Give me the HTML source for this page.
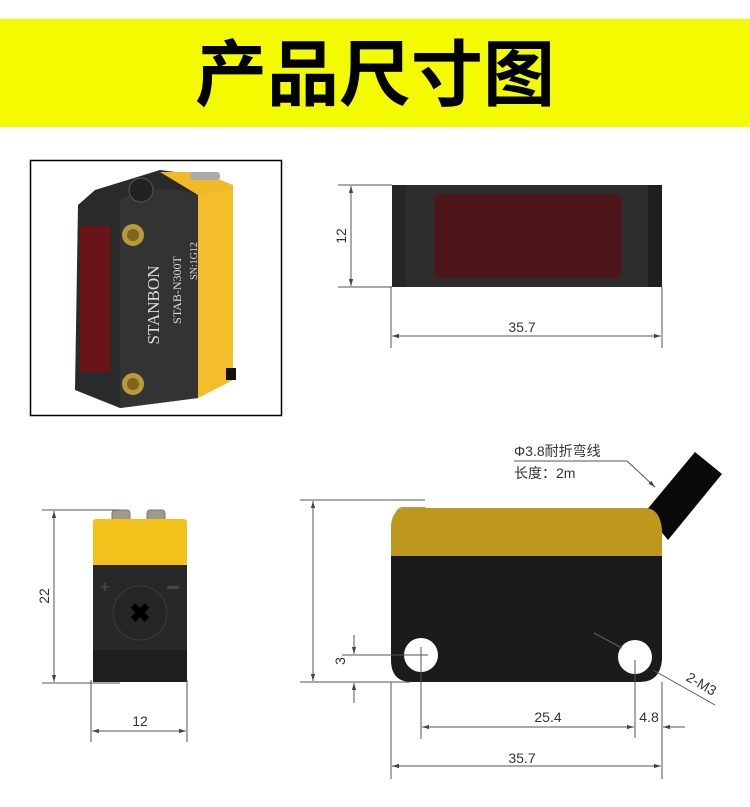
<!DOCTYPE html>
<html><head><meta charset="utf-8"><style>
html,body{margin:0;padding:0;background:#fff;}
svg{display:block;}
text{font-family:"Liberation Sans","Noto Sans CJK SC",sans-serif;}
</style></head><body>
<svg width="750" height="807" viewBox="0 0 750 807" xmlns="http://www.w3.org/2000/svg">
<defs>
<marker id="a" viewBox="0 0 10 10" refX="10" refY="5" markerWidth="7" markerHeight="7" orient="auto-start-reverse"><path d="M0,2 L10,5 L0,8 z" fill="#444"/></marker>
</defs>
<rect x="0" y="19" width="750" height="108" fill="#f4fb00"/>
<text x="375" y="100" text-anchor="middle" font-size="72" font-weight="bold" style="font-family:'Noto Sans CJK SC',sans-serif" fill="#000">产品尺寸图</text>

<!-- photo -->
<rect x="30.5" y="160.5" width="251" height="255" fill="#fff" stroke="#000" stroke-width="1.5"/>
<path d="M198,175 L160,170 L95,190 L78,205 L75,390 L120,408 L198,398 Z" fill="#2a2a2a"/>
<path d="M120,200 Q150,180 198,195 L198,398 L120,408 Z" fill="#333"/>
<path d="M160,172 L200,172 L233,185 L233,380 L198,398 L198,195 Z" fill="#f2b928"/>
<path d="M198,195 L233,190 L233,380 L198,398 Z" fill="#f4be2a"/>
<rect x="80" y="226" width="30" height="146" fill="#6a1418"/>
<circle cx="133" cy="235" r="11" fill="#b79a3a"/><circle cx="133" cy="235" r="6" fill="#7d6420"/>
<circle cx="133" cy="384" r="11" fill="#b79a3a"/><circle cx="133" cy="384" r="6" fill="#7d6420"/>
<circle cx="141" cy="190" r="12" fill="#222" stroke="#555"/>
<rect x="190" y="172" width="30" height="8" rx="3" fill="#aaa"/>
<rect x="226" y="368" width="10" height="12" fill="#111"/>
<g fill="#ddd" font-family="Liberation Serif,serif">
<text transform="translate(159,305) rotate(-90)" text-anchor="middle" font-size="17" style="font-family:'Liberation Serif',serif">STANBON</text>
<text transform="translate(181,290) rotate(-90)" text-anchor="middle" font-size="12" style="font-family:'Liberation Serif',serif">STAB-N300T</text>
<text transform="translate(197,261) rotate(-90)" text-anchor="middle" font-size="10" style="font-family:'Liberation Serif',serif">SN:1G12</text>
</g>

<!-- top view -->
<rect x="392" y="185" width="270" height="102" rx="3" fill="#2d2d2d"/>
<rect x="392" y="185" width="14" height="102" fill="#262626"/>
<rect x="648" y="185" width="14" height="102" fill="#1f1f1f"/>
<rect x="434" y="194" width="188" height="84" rx="6" fill="#4b1519"/>
<g stroke="#555" stroke-width="1" fill="none">
<line x1="338" y1="185" x2="392" y2="185"/><line x1="338" y1="287" x2="392" y2="287"/>
<line x1="351" y1="186" x2="351" y2="286" marker-start="url(#a)" marker-end="url(#a)"/>
<line x1="391" y1="287" x2="391" y2="348"/><line x1="662" y1="287" x2="662" y2="348"/>
<line x1="392" y1="336" x2="661" y2="336" marker-start="url(#a)" marker-end="url(#a)"/>
</g>
<text transform="translate(346,236) rotate(-90)" text-anchor="middle" font-size="14" fill="#333">12</text>
<text x="522" y="332" text-anchor="middle" font-size="14" fill="#333">35.7</text>

<!-- side view -->
<rect x="112" y="510" width="18" height="24" rx="3" fill="#a09a88" stroke="#777"/>
<rect x="147" y="510" width="18" height="24" rx="3" fill="#a09a88" stroke="#777"/>
<rect x="93" y="519" width="94" height="48" rx="3" fill="#f2c21a"/>
<rect x="93" y="565" width="94" height="117" fill="#282828"/>
<rect x="93" y="650" width="94" height="32" fill="#1e1e1e"/>
<circle cx="140" cy="613" r="27" fill="#262626" stroke="#3a3a3a"/>
<text x="140" y="622" text-anchor="middle" font-size="26" font-weight="bold" fill="#000">✖</text>
<text x="105" y="592" text-anchor="middle" font-size="16" font-weight="bold" fill="#444">+</text>
<rect x="167" y="586" width="12" height="3" fill="#444"/>
<g stroke="#555" stroke-width="1" fill="none">
<line x1="42" y1="510" x2="120" y2="510"/><line x1="42" y1="683" x2="120" y2="683"/>
<line x1="54" y1="511" x2="54" y2="682" marker-start="url(#a)" marker-end="url(#a)"/>
<line x1="91" y1="680" x2="91" y2="742"/><line x1="187" y1="680" x2="187" y2="742"/>
<line x1="92" y1="731" x2="186" y2="731" marker-start="url(#a)" marker-end="url(#a)"/>
</g>
<text transform="translate(49,596) rotate(-90)" text-anchor="middle" font-size="14" fill="#333">22</text>
<text x="140" y="726" text-anchor="middle" font-size="14" fill="#333">12</text>

<!-- front view -->
<path d="M645,512 L695,452 L722,474 L668,540 Z" fill="#0a0a0a"/>
<path d="M395,515 Q396,508 402,507 L425,507 L425,512 L402,512 L400,530 Z" fill="#b89a4a"/>
<path d="M391,527 Q391,508 410,508 L645,508 Q660,508 662,530 L662,557 L391,557 Z" fill="#bd981c"/>
<path d="M391,556 L662,556 L662,660 Q660,682 640,682 L412,682 Q391,682 391,660 Z" fill="#1b1b1b"/>
<circle cx="421" cy="655" r="17" fill="#fff"/>
<circle cx="635" cy="657" r="17" fill="#fff"/>
<g stroke="#555" stroke-width="1" fill="none">
<line x1="300" y1="500" x2="425" y2="500"/><line x1="300" y1="682" x2="410" y2="682"/>
<line x1="313" y1="501" x2="313" y2="681" marker-start="url(#a)" marker-end="url(#a)"/>
<line x1="342" y1="655" x2="428" y2="655"/>
<line x1="354" y1="635" x2="354" y2="654" marker-end="url(#a)"/>
<line x1="354" y1="703" x2="354" y2="683" marker-end="url(#a)"/>
<line x1="421" y1="647" x2="421" y2="739"/><line x1="635" y1="660" x2="635" y2="738"/>
<line x1="391" y1="682" x2="391" y2="779"/><line x1="662" y1="682" x2="662" y2="779"/>
<line x1="422" y1="727" x2="634" y2="727" marker-start="url(#a)" marker-end="url(#a)"/>
<line x1="685" y1="727" x2="663" y2="727" marker-end="url(#a)"/>
<line x1="392" y1="766" x2="661" y2="766" marker-start="url(#a)" marker-end="url(#a)"/>
<line x1="514" y1="461" x2="627" y2="461"/>
<line x1="627" y1="461" x2="655" y2="487" marker-end="url(#a)"/>
<line x1="594" y1="633" x2="622" y2="648" stroke="#666"/>
<line x1="653" y1="670" x2="715" y2="705"/>
</g>
<text x="514" y="456" font-size="14" fill="#333">Φ3.8耐折弯线</text>
<text x="514" y="478" font-size="14" fill="#333">长度：2m</text>
<text transform="translate(345,661) rotate(-90)" text-anchor="middle" font-size="14" fill="#333">3</text>
<text x="548" y="722" text-anchor="middle" font-size="14" fill="#333">25.4</text>
<text x="649" y="722" text-anchor="middle" font-size="14" fill="#333">4.8</text>
<text x="522" y="763" text-anchor="middle" font-size="14" fill="#333">35.7</text>
<text transform="translate(699,688) rotate(30)" text-anchor="middle" font-size="14" fill="#333">2-M3</text>
</svg>
</body></html>
